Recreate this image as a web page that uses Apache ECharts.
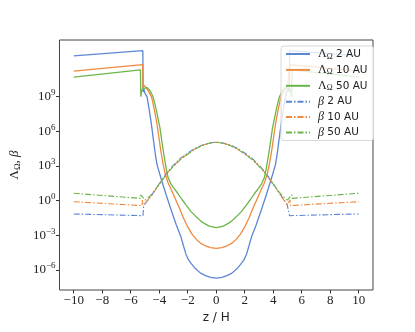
<!DOCTYPE html>
<html><head><meta charset="utf-8">
<script src="https://cdn.jsdelivr.net/npm/echarts@6/dist/echarts.min.js"></script>
<style>html,body{margin:0;padding:0;background:#fff}#c{width:415px;height:332px}</style>
</head><body><div id="c"></div>
<script>
// values are log10 of Λ_Ω and β
const zLam2 = [-10,-5.15,-5.13,-5.08,-5.02,-4.95,-4.86,-4.72,-4.55,-4.4,-4.25,-4.15,-3.84,-3.5,-3.15,-2.8,-2.47,-2.3,-2.12,-1.95,-1.78,-1.45,-1.1,-0.75,-0.4,0,0.4,0.75,1.1,1.45,1.78,1.95,2.12,2.3,2.47,2.8,3.15,3.5,3.84,4.15,4.25,4.4,4.55,4.72,4.86,4.95,5.02,5.08,5.13,5.15,10];
const lam2 = [12.52,12.98,9.4,9.7,9.35,9.45,9.0,8.0,6.6,5.2,3.8,3.1,1.79,0.45,-0.85,-2.1,-3.15,-3.9,-4.65,-5.1,-5.4,-5.9,-6.27,-6.48,-6.63,-6.71,-6.63,-6.48,-6.27,-5.9,-5.4,-5.1,-4.65,-3.9,-3.15,-2.1,-0.85,0.45,1.79,3.1,3.8,5.2,6.6,8.0,9.0,9.45,9.35,9.7,9.4,12.98,12.52];

const zLam10 = [-10,-5.16,-5.14,-5.08,-5.0,-4.85,-4.7,-4.52,-4.35,-4.18,-4.05,-3.9,-3.75,-3.6,-3.4,-3.15,-2.92,-2.6,-2.3,-2.01,-1.7,-1.4,-1.1,-0.75,-0.4,0,0.4,0.75,1.1,1.4,1.7,2.01,2.3,2.6,2.92,3.15,3.4,3.6,3.75,3.9,4.05,4.18,4.35,4.52,4.7,4.85,5.0,5.08,5.14,5.16,10];
const lam10 = [11.2,11.77,9.75,10.0,9.87,9.65,9.35,8.9,7.9,6.8,5.7,4.4,3.3,2.4,1.6,0.95,0.3,-0.6,-1.5,-2.25,-2.9,-3.35,-3.68,-3.92,-4.06,-4.12,-4.06,-3.92,-3.68,-3.35,-2.9,-2.25,-1.5,-0.6,0.3,0.95,1.6,2.4,3.3,4.4,5.7,6.8,7.9,8.9,9.35,9.65,9.87,10.0,9.75,11.77,11.2];

const zLam50 = [-10,-5.32,-5.29,-5.22,-5.05,-4.86,-4.7,-4.55,-4.41,-4.25,-4.1,-3.95,-3.8,-3.65,-3.5,-3.38,-3.2,-2.95,-2.7,-2.4,-2.1,-1.78,-1.4,-1.1,-0.87,-0.5,0,0.5,0.87,1.1,1.4,1.78,2.1,2.4,2.7,2.95,3.2,3.38,3.5,3.65,3.8,3.95,4.1,4.25,4.41,4.55,4.7,4.86,5.05,5.22,5.29,5.32,10];
const lam50 = [10.68,11.31,9.0,9.6,9.72,9.8,9.6,9.3,8.9,8.1,7.2,6.3,5.0,3.8,2.7,2.0,1.5,1.05,0.64,0.1,-0.4,-0.93,-1.4,-1.75,-1.95,-2.2,-2.33,-2.2,-1.95,-1.75,-1.4,-0.93,-0.4,0.1,0.64,1.05,1.5,2.0,2.7,3.8,5.0,6.3,7.2,8.1,8.9,9.3,9.6,9.8,9.72,9.6,9.0,11.31,10.68];

const zBeta2 = [-10,-5.14,-5.1,-4.97,-4.6,-4.2,-3.8,-3.4,-3.0,-2.5,-2.0,-1.5,-1.0,-0.5,0,0.5,1.0,1.5,2.0,2.5,3.0,3.4,3.8,4.2,4.6,4.97,5.1,5.14,10];
const beta2 = [-1.15,-1.3,-0.45,-0.3,0.35,1.1,1.82,2.52,3.08,3.68,4.12,4.52,4.8,4.98,5.07,4.98,4.8,4.52,4.12,3.68,3.08,2.52,1.82,1.1,0.35,-0.3,-0.45,-1.3,-1.15];

const zBeta10 = [-10,-5.2,-5.18,-5.05,-4.97,-4.6,-4.2,-3.8,-3.4,-3.0,-2.5,-2.0,-1.5,-1.0,-0.5,0,0.5,1.0,1.5,2.0,2.5,3.0,3.4,3.8,4.2,4.6,4.97,5.05,5.18,5.2,10];
const beta10 = [-0.09,-0.43,0.06,-0.25,-0.35,0.3,1.05,1.75,2.45,3.0,3.6,4.05,4.47,4.77,4.97,5.06,4.97,4.77,4.47,4.05,3.6,3.0,2.45,1.75,1.05,0.3,-0.35,-0.25,0.06,-0.43,-0.09];

const zBeta50 = [-10,-5.32,-5.3,-5.0,-4.6,-4.2,-3.8,-3.4,-3.0,-2.5,-2.0,-1.5,-1.0,-0.5,0,0.5,1.0,1.5,2.0,2.5,3.0,3.4,3.8,4.2,4.6,5.0,5.3,5.32,10];
const beta50 = [0.64,0.2,0.5,0.05,0.45,1.1,1.75,2.42,2.97,3.57,4.02,4.45,4.76,4.96,5.07,4.96,4.76,4.45,4.02,3.57,2.97,2.42,1.75,1.1,0.45,0.05,0.5,0.2,0.64];

const xTicks = [-10,-8,-6,-4,-2,0,2,4,6,8,10];
const yTicks = [-6,-3,0,3,6,9];
const seriesNames = ['L|2 AU','L|10 AU','L|50 AU','B|2 AU','B|10 AU','B|50 AU'];

const C = ['#5d86d4','#ee8a3e','#6cb548'];
const pair = (zs, vs) => zs.map((z, i) => [z, vs[i]]);
const DD = [6, 2, 1.5, 2];
function mk(name, zs, vs, color, dash) {
  return {
    name, type: 'line', data: pair(zs, vs), showSymbol: false, symbol: 'none',
    animation: false, silent: true,
    lineStyle: { color, width: dash ? 1.1 : 1.3, type: dash ? DD : 'solid' },
    itemStyle: { color }
  };
}
const minus = n => (n < 0 ? '\u2212' + (-n) : '' + n);
const chart = echarts.init(document.getElementById('c'), null, { renderer: 'canvas' });
chart.setOption({
  animation: false,
  backgroundColor: '#fff',
  grid: { left: 52, right: 42, top: 40, bottom: 42, show: true, borderColor: '#444', borderWidth: 1, backgroundColor: 'transparent' },
  xAxis: {
    type: 'value', min: -11, max: 11,
    axisLine: { show: false, onZero: false },
    splitLine: { show: false },
    axisTick: { show: true, length: 3.5, lineStyle: { color: '#333' }, customValues: xTicks },
    axisLabel: { customValues: xTicks, formatter: v => minus(v), fontFamily: 'Liberation Serif', fontSize: 13, color: '#222', margin: 4 },
    name: 'z / H', nameLocation: 'middle', nameGap: 19,
    nameTextStyle: { fontFamily: 'DejaVu Sans', fontSize: 12, color: '#222' }
  },
  yAxis: {
    type: 'value', min: -7.73, max: 13.9,
    axisLine: { show: false, onZero: false },
    splitLine: { show: false },
    axisTick: { show: true, length: 3.5, lineStyle: { color: '#333' }, customValues: yTicks },
    axisLabel: {
      customValues: yTicks, margin: 4,
      formatter: v => '{b|10}{e|' + minus(v) + '}',
      rich: {
        b: { fontFamily: 'Liberation Serif', fontSize: 13, color: '#222' },
        e: { fontFamily: 'Liberation Serif', fontSize: 9, color: '#222', padding: [0, 0, 8, 0] }
      }
    },
    name: '{m|\u039b}{s|\u03a9}{m|, }{i|\u03b2}', nameLocation: 'middle', nameGap: 36, nameRotate: 90,
    nameTextStyle: {
      rich: {
        m: { fontFamily: 'Liberation Serif', fontSize: 13, color: '#222' },
        s: { fontFamily: 'Liberation Serif', fontSize: 9, color: '#222', padding: [6, 0, 0, 0] },
        i: { fontFamily: 'Liberation Serif', fontStyle: 'italic', fontSize: 13, color: '#222' }
      }
    }
  },
  legend: {
    orient: 'vertical', left: 281, top: 46,
    itemWidth: 24, itemHeight: 10, itemGap: 3.4,
    padding: [2, 6, 2, 4],
    backgroundColor: 'rgba(255,255,255,0.8)', borderColor: '#d8d8d8', borderWidth: 1, borderRadius: 3,
    itemStyle: { color: 'rgba(0,0,0,0)', borderColor: 'rgba(0,0,0,0)', borderWidth: 0 },
    data: seriesNames,
    formatter: n => {
      const [k, t] = n.split('|');
      return k === 'L' ? '{m|\u039b}{s|\u03a9}{t| ' + t + '}' : '{i|\u03b2}{t| ' + t + '}';
    },
    textStyle: {
      rich: {
        m: { fontFamily: 'Liberation Serif', fontSize: 12, color: '#222', lineHeight: 13, padding: [0, 0, 0, 3] },
        s: { fontFamily: 'Liberation Serif', fontSize: 8, color: '#222', lineHeight: 6, verticalAlign: 'bottom' },
        i: { fontFamily: 'Liberation Serif', fontStyle: 'italic', fontSize: 12, color: '#222', lineHeight: 13, padding: [0, 0, 0, 3] },
        t: { fontFamily: 'DejaVu Sans', fontSize: 10.5, color: '#222', lineHeight: 13 }
      }
    }
  },
  series: [
    mk(seriesNames[0], zLam2, lam2, C[0], false),
    mk(seriesNames[1], zLam10, lam10, C[1], false),
    mk(seriesNames[2], zLam50, lam50, C[2], false),
    mk(seriesNames[3], zBeta2, beta2, C[0], true),
    mk(seriesNames[4], zBeta10, beta10, C[1], true),
    mk(seriesNames[5], zBeta50, beta50, C[2], true)
  ]
});
</script></body></html>
